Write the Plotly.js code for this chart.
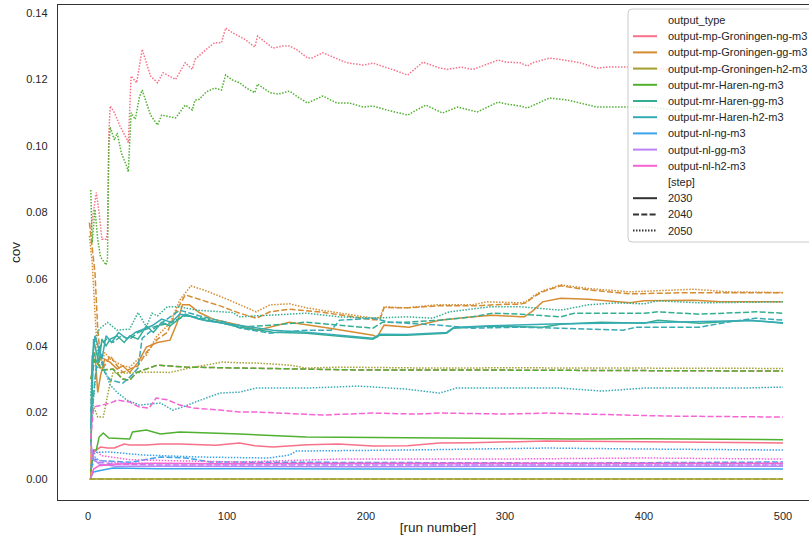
<!DOCTYPE html>
<html>
<head>
<meta charset="utf-8">
<script src="https://cdn.plot.ly/plotly-3.0.1.min.js"></script>
<style>
html,body{margin:0;padding:0;overflow:hidden;background:#fff;}
#chart{width:818px;height:540px;}
</style>
</head>
<body>
<div id="chart"></div>
<script>
// ---------- categories ----------
const outputTypes = ['output-mp-Groningen-ng-m3','output-mp-Groningen-gg-m3','output-mp-Groningen-h2-m3',
  'output-mr-Haren-ng-m3','output-mr-Haren-gg-m3','output-mr-Haren-h2-m3',
  'output-nl-ng-m3','output-nl-gg-m3','output-nl-h2-m3'];
const steps = ['2030','2040','2050'];
const xTicks = [0,100,200,300,400,500];
const yTicks = [0,0.02,0.04,0.06,0.08,0.10,0.12,0.14];

// ---------- series values: [run number, cov] ----------
const mpGroNg2030 = [[2,0.002],[4,0.008],[6,0.0087],[9,0.0096],[14,0.0093],[19,0.0093],[26,0.0105],[30,0.0102],[42,0.0102],[52,0.0105],[66,0.0105],[79,0.0103],[92,0.0101],[109,0.0108],[120,0.0100],[133,0.0096],[158,0.0103],[180,0.0105],[205,0.0099],[230,0.0100],[253,0.0108],[276,0.0109],[311,0.0111],[330,0.0114],[400,0.0112],[460,0.0110],[500,0.0108]];
const mpGroNg2040 = [[2,0.030],[5,0.036],[10,0.0327],[18,0.033],[25,0.030],[30,0.0297],[35,0.032],[40,0.0327],[50,0.0342],[70,0.0336],[109,0.0333],[150,0.0330],[200,0.0327],[300,0.0327],[400,0.0326],[500,0.0324]];
const mpGroNg2050 = [[2,0.075],[3,0.078],[5,0.083],[6,0.086],[8,0.080],[10,0.072],[13,0.072],[14,0.074],[15,0.104],[16,0.112],[19,0.110],[23,0.106],[28,0.102],[29,0.101],[31,0.121],[35,0.119],[39,0.129],[45,0.121],[50,0.119],[54,0.122],[63,0.120],[70,0.125],[75,0.123],[77,0.126],[85,0.129],[91,0.131],[96,0.131],[99,0.1354],[104,0.134],[113,0.132],[120,0.1297],[122,0.133],[133,0.1294],[140,0.130],[145,0.130],[150,0.129],[158,0.1264],[161,0.1264],[169,0.128],[181,0.1258],[186,0.125],[198,0.1243],[205,0.1249],[220,0.1228],[230,0.1213],[241,0.1252],[253,0.1234],[259,0.123],[268,0.1237],[277,0.123],[284,0.124],[295,0.1258],[301,0.1252],[311,0.125],[316,0.124],[320,0.125],[332,0.1264],[340,0.126],[354,0.125],[366,0.1234],[375,0.1237],[388,0.1237],[420,0.123],[460,0.1235],[500,0.1235]];

const mpGroGg2030 = [[2,0.0],[3,0.037],[5,0.038],[7,0.026],[9,0.031],[12,0.036],[16,0.035],[21,0.033],[25,0.034],[30,0.032],[36,0.035],[42,0.0396],[50,0.041],[59,0.0417],[64,0.0468],[68,0.0523],[73,0.0523],[80,0.050],[90,0.048],[109,0.0462],[122,0.0447],[145,0.0471],[174,0.0453],[205,0.0432],[208,0.0426],[213,0.0462],[231,0.0456],[253,0.0477],[277,0.0487],[291,0.0492],[311,0.0487],[314,0.0487],[320,0.0505],[327,0.0532],[340,0.0543],[360,0.054],[390,0.0529],[400,0.0535],[436,0.0537],[455,0.0532],[500,0.0532]];
const mpGroGg2040 = [[1,0.077],[3,0.070],[5,0.062],[7,0.045],[9,0.036],[12,0.034],[16,0.037],[21,0.034],[25,0.032],[30,0.033],[36,0.034],[42,0.038],[50,0.042],[57,0.044],[63,0.050],[70,0.0553],[80,0.054],[95,0.052],[109,0.0498],[121,0.0483],[131,0.0502],[145,0.051],[170,0.050],[190,0.0488],[205,0.0478],[210,0.0478],[213,0.0515],[231,0.0514],[251,0.0520],[280,0.052],[300,0.0525],[311,0.0525],[315,0.0529],[321,0.0548],[327,0.0562],[340,0.058],[360,0.0568],[390,0.0556],[425,0.0559],[460,0.0559],[500,0.0559]];
const mpGroGg2050 = [[1,0.073],[3,0.065],[5,0.050],[7,0.036],[9,0.033],[12,0.038],[16,0.036],[21,0.035],[25,0.034],[30,0.0336],[36,0.036],[42,0.0372],[49,0.0426],[59,0.0468],[66,0.0537],[74,0.058],[85,0.0565],[100,0.054],[109,0.0523],[121,0.0502],[131,0.0523],[145,0.0526],[157,0.0514],[181,0.0498],[205,0.0483],[210,0.0485],[213,0.0517],[229,0.0514],[251,0.0523],[277,0.0523],[287,0.0532],[311,0.0529],[315,0.0532],[321,0.0551],[327,0.0565],[340,0.0583],[360,0.0572],[390,0.0562],[436,0.057],[460,0.0562],[500,0.056]];

const mpGroH22030 = [[1,0.0],[100,0.0],[200,0.0],[300,0.0],[400,0.0],[500,0.0]];
const mpGroH22040 = [[1,0.0],[100,0.0],[200,0.0],[300,0.0],[400,0.0],[500,0.0]];
const mpGroH22050 = [[2,0.024],[4,0.022],[7,0.0186],[11,0.0186],[15,0.027],[18,0.032],[30,0.0318],[44,0.0321],[59,0.032],[76,0.0336],[97,0.0351],[109,0.0349],[122,0.0348],[145,0.0342],[157,0.0333],[181,0.0336],[250,0.0333],[300,0.0334],[350,0.0333],[400,0.0332],[450,0.0333],[500,0.0332]];

const mrHarNg2030 = [[2,0.002],[4,0.0087],[6,0.0087],[8,0.0126],[11,0.0138],[15,0.0123],[30,0.012],[32,0.0141],[42,0.0147],[52,0.0135],[66,0.0141],[90,0.0138],[109,0.0135],[157,0.0126],[229,0.0123],[300,0.0122],[350,0.012],[400,0.0121],[450,0.012],[500,0.0118]];
const mrHarNg2040 = [[2,0.030],[5,0.036],[10,0.0327],[18,0.033],[25,0.030],[30,0.0297],[35,0.032],[40,0.0327],[50,0.0342],[70,0.0336],[109,0.0333],[150,0.0330],[200,0.0327],[300,0.0327],[400,0.0326],[500,0.0324]];
const mrHarNg2050 = [[2,0.0868],[3,0.071],[5,0.081],[7,0.072],[9,0.0667],[13,0.0643],[14,0.066],[15,0.100],[16,0.1057],[19,0.1018],[21,0.1039],[24,0.0979],[28,0.0937],[29,0.0922],[31,0.110],[34,0.108],[37,0.1147],[39,0.1168],[45,0.1093],[50,0.1063],[53,0.1093],[59,0.1087],[63,0.1084],[70,0.1123],[75,0.1108],[77,0.1138],[80,0.1140],[85,0.1162],[91,0.1174],[96,0.1168],[99,0.1213],[104,0.1198],[109,0.119],[114,0.1174],[120,0.116],[122,0.1186],[131,0.116],[137,0.1156],[145,0.1165],[151,0.1147],[158,0.1129],[169,0.1150],[179,0.1129],[188,0.1129],[198,0.1117],[205,0.112],[215,0.1108],[230,0.1093],[243,0.1123],[255,0.1099],[266,0.1117],[280,0.1102],[295,0.1132],[301,0.1126],[311,0.112],[316,0.1114],[332,0.1144],[345,0.1138],[366,0.1117],[404,0.1117],[421,0.1108],[460,0.111],[500,0.1117]];

const mrHarGg2030 = [[2,0.01],[3,0.030],[4,0.042],[6,0.038],[8,0.035],[10,0.042],[13,0.040],[16,0.042],[21,0.043],[26,0.041],[30,0.043],[36,0.042],[42,0.046],[47,0.044],[53,0.047],[59,0.046],[65,0.048],[70,0.0495],[80,0.048],[95,0.047],[109,0.0456],[133,0.0441],[157,0.0438],[181,0.0429],[205,0.042],[210,0.0432],[229,0.0432],[258,0.0438],[263,0.0453],[289,0.0459],[311,0.0456],[327,0.0456],[340,0.0465],[369,0.0471],[400,0.0468],[410,0.0477],[440,0.0468],[476,0.0477],[500,0.0468]];
const mrHarGg2040 = [[2,0.02],[4,0.038],[6,0.035],[9,0.04],[13,0.042],[18,0.041],[24,0.043],[30,0.042],[36,0.044],[42,0.045],[50,0.046],[60,0.047],[70,0.049],[80,0.0485],[95,0.047],[109,0.0456],[133,0.0462],[157,0.0471],[181,0.0462],[205,0.0453],[212,0.0471],[229,0.0471],[253,0.0477],[277,0.0487],[291,0.0498],[311,0.0495],[340,0.0487],[350,0.0498],[400,0.0498],[410,0.0502],[440,0.0495],[481,0.0502],[500,0.0498]];
const mrHarGg2050 = [[2,0.025],[4,0.04],[8,0.045],[14,0.047],[21,0.0447],[30,0.045],[36,0.050],[42,0.0457],[46,0.0498],[50,0.049],[57,0.0517],[66,0.0517],[78,0.0507],[104,0.050],[109,0.0487],[133,0.0492],[157,0.0498],[181,0.0487],[205,0.0483],[229,0.0487],[248,0.0483],[260,0.0502],[289,0.0517],[311,0.0517],[330,0.051],[340,0.0507],[360,0.0523],[380,0.0529],[400,0.0526],[410,0.0535],[440,0.0529],[500,0.0532]];

const mrHarH22030 = [[2,0.015],[3,0.035],[5,0.043],[7,0.040],[10,0.036],[13,0.043],[17,0.041],[22,0.044],[28,0.042],[34,0.044],[40,0.045],[46,0.046],[53,0.048],[60,0.047],[66,0.0495],[72,0.049],[85,0.0475],[109,0.0462],[133,0.0447],[157,0.0441],[181,0.0432],[205,0.0423],[210,0.0435],[229,0.0434],[258,0.0440],[263,0.0455],[289,0.046],[340,0.0466],[400,0.0469],[476,0.0476],[500,0.0469]];
const mrHarH22040 = [[2,0.015],[5,0.03],[8,0.040],[12,0.032],[16,0.0297],[25,0.0288],[30,0.0306],[36,0.0333],[39,0.0423],[50,0.046],[66,0.0507],[80,0.049],[100,0.047],[109,0.0453],[131,0.0438],[157,0.0447],[175,0.0447],[181,0.0477],[205,0.0483],[217,0.0471],[253,0.0462],[277,0.0453],[311,0.0456],[340,0.0453],[385,0.0447],[395,0.0456],[440,0.0456],[460,0.0471],[480,0.0483],[500,0.0477]];
const mrHarH22050 = [[3,0.02],[6,0.033],[10,0.035],[16,0.0282],[21,0.026],[28,0.0237],[37,0.0222],[52,0.0228],[61,0.0207],[68,0.0216],[81,0.0237],[95,0.0258],[109,0.0261],[121,0.0273],[157,0.0273],[195,0.0279],[229,0.027],[253,0.0258],[265,0.0273],[311,0.0273],[340,0.0273],[370,0.0264],[400,0.0273],[470,0.0273],[500,0.0276]];

const nlNg2030 = [[2,0.0005],[4,0.0021],[8,0.0025],[18,0.0033],[50,0.0031],[100,0.003],[200,0.003],[300,0.003],[400,0.003],[500,0.003]];
const nlNg2040 = [[2,0.003],[5,0.006],[10,0.0055],[30,0.005],[52,0.0066],[71,0.0063],[88,0.0051],[150,0.0051],[250,0.0049],[350,0.0048],[450,0.005],[500,0.0051]];
const nlNg2050 = [[2,0.004],[5,0.008],[15,0.0081],[40,0.0072],[80,0.0066],[110,0.0063],[130,0.0063],[145,0.0072],[150,0.0084],[230,0.0087],[311,0.0093],[330,0.0093],[400,0.009],[500,0.0087]];

const nlGg2030 = [[2,0.011],[4,0.006],[8,0.0045],[20,0.0038],[50,0.0038],[100,0.0037],[200,0.0037],[300,0.0038],[400,0.0038],[500,0.0038]];
const nlGg2040 = [[2,0.009],[4,0.0057],[8,0.005],[20,0.0045],[50,0.0042],[100,0.0042],[200,0.0041],[300,0.0042],[400,0.0042],[500,0.0042]];
const nlGg2050 = [[2,0.008],[4,0.007],[8,0.0055],[20,0.005],[50,0.0046],[100,0.0045],[200,0.0045],[300,0.0045],[400,0.0046],[500,0.0045]];

const nlH22030 = [[2,0.0003],[4,0.003],[8,0.004],[20,0.0045],[50,0.0047],[100,0.0046],[200,0.0047],[300,0.0047],[400,0.0047],[500,0.0047]];
const nlH22040 = [[2,0.012],[4,0.0216],[8,0.022],[16,0.0228],[21,0.0237],[30,0.0231],[37,0.0216],[44,0.0213],[49,0.0243],[57,0.0238],[66,0.0222],[76,0.0213],[95,0.0207],[109,0.0201],[121,0.0201],[169,0.0192],[205,0.0198],[237,0.0195],[253,0.0198],[301,0.0195],[330,0.0198],[368,0.0195],[416,0.0189],[500,0.0186]];
const nlH22050 = [[2,0.006],[5,0.0085],[10,0.007],[30,0.0058],[60,0.0055],[109,0.0051],[181,0.006],[300,0.006],[400,0.0063],[500,0.006]];

const seriesByType = [
  [mpGroNg2030, mpGroNg2040, mpGroNg2050],
  [mpGroGg2030, mpGroGg2040, mpGroGg2050],
  [mpGroH22030, mpGroH22040, mpGroH22050],
  [mrHarNg2030, mrHarNg2040, mrHarNg2050],
  [mrHarGg2030, mrHarGg2040, mrHarGg2050],
  [mrHarH22030, mrHarH22040, mrHarH22050],
  [nlNg2030, nlNg2040, nlNg2050],
  [nlGg2030, nlGg2040, nlGg2050],
  [nlH22030, nlH22040, nlH22050]
];

// ---------- styles ----------
const palette = ['#f77189','#d58c32','#a4a031','#50b131','#34ae91','#37abb5','#3ba3ec','#bb83f4','#f564d4'];
const dashes = ['solid','6px,2.3px','1.5px,1.5px'];
const LW = 1.5;
const textColor = '#262626';
const FONT = 'Liberation Sans, Arial, sans-serif';

const traces = [];
seriesByType.forEach((group, i) => {
  group.forEach((pts, j) => {
    traces.push({
      type: 'scatter', mode: 'lines',
      name: outputTypes[i] + ' ' + steps[j],
      x: pts.map(p => p[0]), y: pts.map(p => p[1]),
      line: {color: palette[i], width: LW, dash: dashes[j]},
      showlegend: false, hoverinfo: 'x+y+name'
    });
  });
});

// ---------- layout geometry ----------
const W = 818, H = 540, ML = 58, MR = 0, MT = 5, MB = 40;
const PW = W - ML - MR, PH = H - MT - MB;
const px2x = px => (px - ML) / PW;
const py2y = py => (H - MB - py) / PH;

// manual legend (matplotlib style)
const shapes = [];
const annotations = [];
const lx0 = 628, lx1 = 815, ly0 = 9, ly1 = 242, r = 4;
const ax0 = px2x(lx0), ax1 = px2x(lx1), ay0 = py2y(ly1), ay1 = py2y(ly0);
const rx = r / PW, ry = r / PH;
shapes.push({
  type: 'path', xref: 'paper', yref: 'paper',
  path: `M ${ax0+rx},${ay0} L ${ax1-rx},${ay0} Q ${ax1},${ay0} ${ax1},${ay0+ry} L ${ax1},${ay1-ry} Q ${ax1},${ay1} ${ax1-rx},${ay1} L ${ax0+rx},${ay1} Q ${ax0},${ay1} ${ax0},${ay1-ry} L ${ax0},${ay0+ry} Q ${ax0},${ay0} ${ax0+rx},${ay0} Z`,
  fillcolor: 'rgba(255,255,255,0.8)', line: {color: '#cccccc', width: 1}, layer: 'above'
});
const rows = [];
rows.push({text: 'output_type', color: null});
outputTypes.forEach((t, i) => rows.push({text: t, color: palette[i], dash: 'solid'}));
rows.push({text: '[step]', color: null});
steps.forEach((s, j) => rows.push({text: s, color: '#333333', dash: dashes[j]}));
rows.forEach((row, k) => {
  const cy = 20 + 16.2 * k;
  if (row.color) {
    shapes.push({type: 'line', xref: 'paper', yref: 'paper',
      x0: px2x(633), x1: px2x(657), y0: py2y(cy), y1: py2y(cy),
      line: {color: row.color, width: 2, dash: row.dash}, layer: 'above'});
  }
  annotations.push({xref: 'paper', yref: 'paper', x: px2x(666), y: py2y(cy),
    xanchor: 'left', yanchor: 'middle', showarrow: false, text: row.text,
    font: {family: FONT, size: 11, color: textColor}});
});

const layout = {
  width: W, height: H,
  margin: {l: ML, r: MR, t: MT, b: MB, pad: 0},
  paper_bgcolor: '#ffffff', plot_bgcolor: '#ffffff',
  font: {family: FONT, size: 11, color: textColor},
  showlegend: false,
  xaxis: {
    range: [-(88 - ML) / 1.39, (W - MR - 88) / 1.39],
    tickvals: xTicks, ticktext: xTicks.map(String),
    showgrid: false, zeroline: false, showline: true, mirror: true,
    linecolor: '#333333', linewidth: 1.25, ticks: '', ticklabelstandoff: 6,
    tickfont: {family: FONT, size: 11, color: textColor},
    title: {text: '[run number]', standoff: 1, font: {family: FONT, size: 13.5, color: textColor}}
  },
  yaxis: {
    range: [(479 - (H - MB)) / 3330, (479 - MT) / 3330],
    tickvals: yTicks, ticktext: yTicks.map(v => v.toFixed(2)),
    showgrid: false, zeroline: false, showline: true, mirror: true,
    linecolor: '#333333', linewidth: 1.25, ticks: '', ticklabelstandoff: 7,
    tickfont: {family: FONT, size: 11, color: textColor},
    title: {text: 'cov', standoff: 2, font: {family: FONT, size: 13.5, color: textColor}}
  },
  shapes: shapes,
  annotations: annotations
};

Plotly.newPlot('chart', traces, layout, {displayModeBar: false, staticPlot: true});
</script>
</body>
</html>
